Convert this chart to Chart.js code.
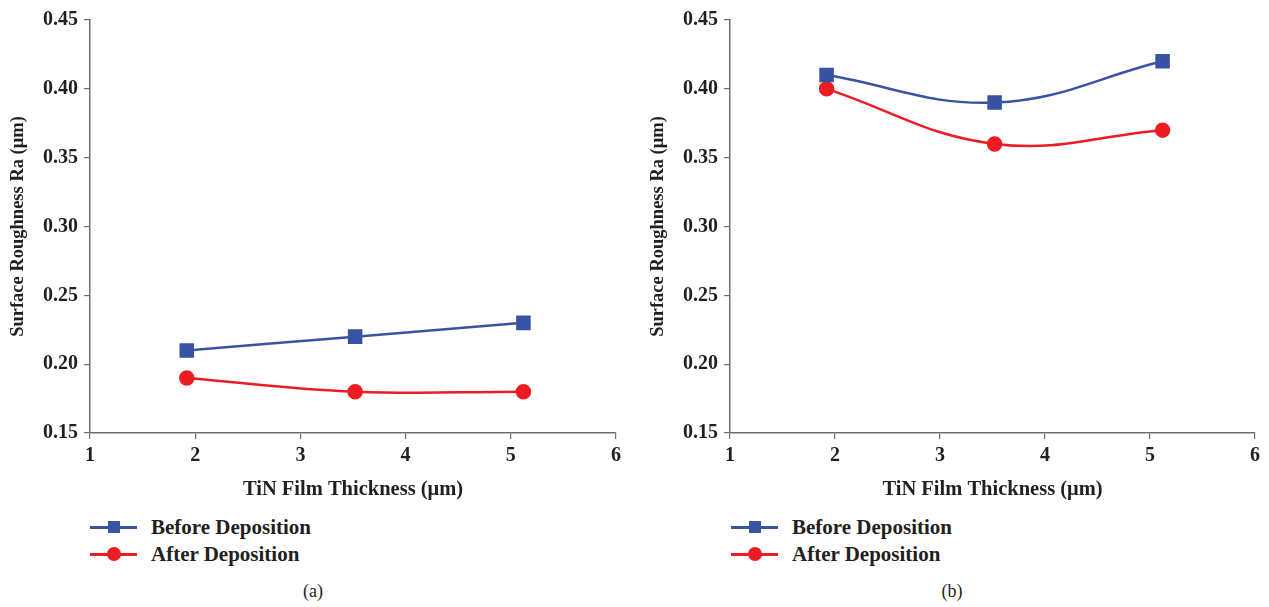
<!DOCTYPE html>
<html>
<head>
<meta charset="utf-8">
<script src="https://cdn.jsdelivr.net/npm/chart.js@4"></script>
<style>
  body { margin: 0; background: #fff; width: 1269px; height: 607px; position: relative; overflow: hidden; font-family: "Liberation Serif", serif; color: #231f20; }
  canvas { position: absolute; top: 0; }
  .legend { position: absolute; top: 516px; font-weight: bold; font-size: 21px; }
  .item { position: relative; height: 27px; line-height: 22px; padding-left: 61px; }
  .item .ln { position: absolute; left: 0; top: 10px; width: 47px; height: 2.5px; }
  .item .mk { position: absolute; left: 18px; top: 5px; width: 12px; height: 12px; }
  .caption { position: absolute; top: 581px; font-size: 18px; transform: translateX(-50%); }
</style>
</head>
<body>
<canvas id="chartA" width="640" height="510" style="left:0px"></canvas>
<canvas id="chartB" width="629" height="510" style="left:640px"></canvas>
<div class="legend" id="legendA" style="left:90px"></div>
<div class="legend" id="legendB" style="left:731px"></div>
<div class="caption" style="left:313px">(a)</div>
<div class="caption" style="left:952px">(b)</div>
<script>
// TiN film thickness (um)
var thickness = [1.92, 3.52, 5.12];
// surface roughness Ra (um)
var beforeA = [0.21, 0.22, 0.23];
var afterA = [0.19, 0.18, 0.18];
var beforeB = [0.41, 0.39, 0.42];
var afterB = [0.40, 0.36, 0.37];
var seriesNames = ['Before Deposition', 'After Deposition'];
var seriesColors = ['#3953a4', '#ed1c24'];
var xTicks = [1, 2, 3, 4, 5, 6];
var yTicks = [0.15, 0.20, 0.25, 0.30, 0.35, 0.40, 0.45];

var fontFamily = '"Liberation Serif", serif';
var textColor = '#231f20';

function points(ys) {
    var pts = [];
    for (var i = 0; i < thickness.length; i++) {
        pts.push({x: thickness[i], y: ys[i]});
    }
    return pts;
}

function makeChart(id, before, after, padRight) {
    var ctx = document.getElementById(id);
    return new Chart(ctx, {
        type: 'line',
        data: {
            datasets: [
            {
                label: seriesNames[0],
                data: points(before),
                borderColor: seriesColors[0],
                backgroundColor: seriesColors[0],
                borderWidth: 2.5,
                pointStyle: 'rect',
                pointRadius: 8.5,
                pointHoverRadius: 8.5,
                tension: 0.4
            },
            {
                label: seriesNames[1],
                data: points(after),
                borderColor: seriesColors[1],
                backgroundColor: seriesColors[1],
                borderWidth: 2.5,
                pointStyle: 'circle',
                pointRadius: 6.5,
                pointHoverRadius: 6.5,
                tension: 0.4
            }
            ]
        },
        options: {
            responsive: false,
            animation: false,
            layout: { padding: { top: 20, right: padRight, left: 0, bottom: 0 } },
            plugins: { legend: { display: false }, tooltip: { enabled: false } },
            scales: {
                x: {
                    type: 'linear',
                    min: xTicks[0],
                    max: xTicks[xTicks.length - 1],
                    afterBuildTicks: function(scale) {
                        scale.ticks = xTicks.map(function(v){ return {value: v}; });
                    },
                    afterFit: function(scale) { scale.height = 77; },
                    grid: { drawOnChartArea: false, drawTicks: true, tickLength: 6, color: '#6d6e71', lineWidth: 1.2 },
                    border: { display: true, color: '#6d6e71', width: 1.5 },
                    ticks: { color: textColor, padding: 5, maxRotation: 0, font: { family: fontFamily, size: 20, weight: 'bold' } },
                    title: {
                        display: true,
                        text: 'TiN Film Thickness (\u03bcm)',
                        color: textColor,
                        padding: { top: 4, bottom: 8 },
                        font: { family: fontFamily, size: 20.5, weight: 'bold' }
                    }
                },
                y: {
                    min: yTicks[0],
                    max: yTicks[yTicks.length - 1],
                    afterBuildTicks: function(scale) {
                        scale.ticks = yTicks.map(function(v){ return {value: v}; });
                    },
                    afterFit: function(scale) { scale.width = 90; },
                    grid: { drawOnChartArea: false, drawTicks: true, tickLength: 6, color: '#6d6e71', lineWidth: 1.2 },
                    border: { display: true, color: '#6d6e71', width: 1.5 },
                    ticks: {
                        color: textColor,
                        padding: 6,
                        font: { family: fontFamily, size: 20, weight: 'bold' },
                        callback: function(v) { return v.toFixed(2); }
                    },
                    title: {
                        display: true,
                        text: 'Surface Roughness Ra (\u03bcm)',
                        color: textColor,
                        padding: { top: 7, bottom: 0 },
                        font: { family: fontFamily, size: 18.5, weight: 'bold' }
                    }
                }
            }
        }
    });
}

function makeLegend(id) {
    var box = document.getElementById(id);
    for (var i = 0; i < seriesNames.length; i++) {
        var item = document.createElement('div');
        item.className = 'item';
        var ln = document.createElement('span');
        ln.className = 'ln';
        ln.style.background = seriesColors[i];
        var mk = document.createElement('span');
        mk.className = 'mk';
        mk.style.background = seriesColors[i];
        if (i == 1) { mk.style.borderRadius = '50%'; mk.style.width = '14px'; mk.style.height = '14px'; mk.style.left = '17px'; mk.style.top = '4px'; }
        item.appendChild(ln);
        item.appendChild(mk);
        item.appendChild(document.createTextNode(seriesNames[i]));
        box.appendChild(item);
    }
}

makeChart('chartA', beforeA, afterA, 24);
makeChart('chartB', beforeB, afterB, 14);
makeLegend('legendA');
makeLegend('legendB');
</script>
</body>
</html>
